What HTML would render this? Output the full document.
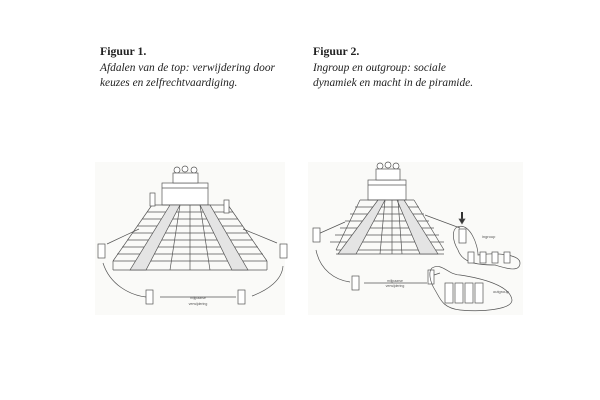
<!DOCTYPE html>
<html><head><style>
html,body{margin:0;padding:0;background:#fff;}
body{width:600px;height:400px;position:relative;overflow:hidden;font-family:"Liberation Serif",serif;color:#222;}
.t{position:absolute;font-size:11.4px;line-height:15.5px;}
.t b{font-size:11.8px;}
.t i{display:block;}
svg{position:absolute;left:0;top:0;}
</style></head><body>
<div class="t" style="left:100px;top:44px;"><b>Figuur 1.</b><i>Afdalen van de top: verwijdering door</i><i>keuzes en zelfrechtvaardiging.</i></div>
<div class="t" style="left:313px;top:44px;"><b>Figuur 2.</b><i>Ingroup en outgroup: sociale</i><i>dynamiek en macht in de piramide.</i></div>
<svg width="600" height="400" viewBox="0 0 600 400" fill="none" stroke="#555" stroke-width="0.7">
<rect x="95" y="162" width="190" height="153" fill="#fafaf8" stroke="none"/>
<rect x="308" y="162" width="215" height="153" fill="#fafaf8" stroke="none"/>
<!-- left pyramid -->
<g>
<rect x="162" y="183" width="46" height="22" fill="#fff"/>
<line x1="162" y1="188" x2="208" y2="188"/>
<g fill="#fff"><circle cx="177" cy="170" r="3"/><circle cx="185" cy="169" r="3"/><circle cx="194" cy="170" r="3"/><rect x="173" y="173" width="25" height="10"/></g>
<path d="M152 205H228M147 212H233M142 219H238M137 226H243M132 233H248M127 240H253M122 247H258M117 254H263M113 261H267M113 270H267M113 261V270M267 261V270M152 205L113 261M228 205L267 261"/>
<path d="M170 205L130 270H146L180 205Z" fill="#e4e4e4"/>
<path d="M200 205L232 270H248L210 205Z" fill="#e4e4e4"/>
<path d="M180 205L170 270M190 205V270M200 205L210 270"/>
<path d="M139 229L107 244M243 229L277 243M103 263C110 285 130 295 146 297M160 297H236M252 296C268 290 282 280 283 266"/>
<g fill="#fff"><rect x="98" y="244" width="7" height="14"/><rect x="280" y="244" width="7" height="14"/><rect x="146" y="290" width="7" height="14"/><rect x="238" y="290" width="7" height="14"/><rect x="150" y="193" width="5" height="13"/><rect x="224" y="200" width="5" height="13"/></g>
<text x="198" y="299" font-size="3.5" fill="#555" stroke="none" text-anchor="middle" font-family="Liberation Sans,sans-serif">mijlpaarse</text>
<text x="198" y="305" font-size="3.5" fill="#555" stroke="none" text-anchor="middle" font-family="Liberation Sans,sans-serif">verwijdering</text>
</g>
<!-- right pyramid -->
<g>
<rect x="368" y="180" width="38" height="20" fill="#fff"/>
<line x1="368" y1="185" x2="406" y2="185"/>
<g fill="#fff"><circle cx="380" cy="166" r="3"/><circle cx="388" cy="165" r="3"/><circle cx="396" cy="166" r="3"/><rect x="376" y="169" width="24" height="11"/></g>
<path d="M360 200H414M355 207H419M350 214H424M345 221H429M340 228H434M335 235H439M330 242H444M336 250H444M336 254H444M360 200L336 250M414 200L444 250"/>
<path d="M378 200L338 254H356L385 200Z" fill="#e4e4e4"/>
<path d="M397 200L420 254H438L404 200Z" fill="#e4e4e4"/>
<path d="M385 200L380 254M392 200V254M398 200L402 254"/>
<path d="M345 222L318 234M425 215L460 228M316 250C320 270 335 280 350 282M364 283H427M440 273L428 277"/>
<g fill="#fff"><rect x="313" y="228" width="7" height="14"/><rect x="352" y="276" width="7" height="14"/><rect x="428" y="270" width="6" height="14"/><rect x="459" y="229" width="7" height="14"/></g>
<path d="M462 212V220" stroke-width="2" stroke="#333"/>
<path d="M459 219L462 224L465 219Z" fill="#333"/>
<path d="M457 227C470 222 478 245 478 255C498 252 520 255 520 263C520 273 505 268 495 265C475 265 462 262 458 250C452 240 452 230 457 227Z"/>
<g fill="#fff"><rect x="468" y="252" width="6" height="11"/><rect x="480" y="252" width="6" height="11"/><rect x="492" y="252" width="6" height="11"/><rect x="504" y="252" width="6" height="11"/></g>
<path d="M432 268C442 262 448 275 460 275C480 278 510 285 512 300C512 310 480 312 460 310C442 308 440 298 435 290C430 282 428 272 432 268Z"/>
<g fill="#fff"><rect x="445" y="283" width="8" height="20"/><rect x="455" y="283" width="8" height="20"/><rect x="465" y="283" width="8" height="20"/><rect x="475" y="283" width="8" height="20"/></g>
<text x="482" y="238" font-size="4" fill="#555" stroke="none" font-family="Liberation Sans,sans-serif">ingroup</text>
<text x="493" y="293" font-size="4" fill="#555" stroke="none" font-family="Liberation Sans,sans-serif">outgroup</text>
<text x="395" y="282" font-size="3.5" fill="#555" stroke="none" text-anchor="middle" font-family="Liberation Sans,sans-serif">mijlpaarse</text>
<text x="395" y="287" font-size="3.5" fill="#555" stroke="none" text-anchor="middle" font-family="Liberation Sans,sans-serif">verwijdering</text>
</g>
</svg>
</body></html>
